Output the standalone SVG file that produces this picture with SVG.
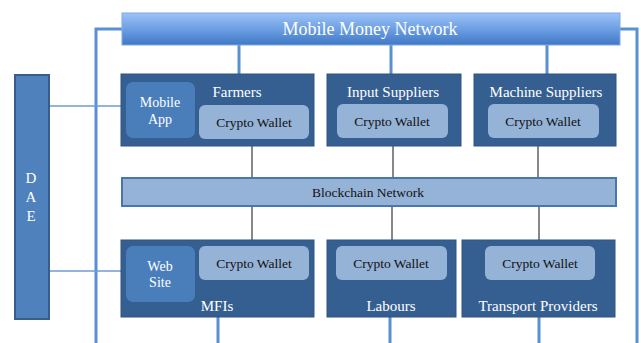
<svg xmlns="http://www.w3.org/2000/svg" width="641" height="343" viewBox="0 0 641 343">
<defs>
<linearGradient id="mmg" x1="0" y1="0" x2="0" y2="1">
<stop offset="0" stop-color="#9cc3f7"/>
<stop offset="0.5" stop-color="#6d9fe3"/>
<stop offset="1" stop-color="#3f78c6"/>
</linearGradient>
</defs>
<style>
.org{fill:#365f91;stroke:#2f5580;stroke-width:1}
.sub{fill:#4a7ebb}
.wal{fill:#95b3d7}
.bus{stroke:#5b8fd3;stroke-width:3;fill:none}
.thin{stroke:#6f9bd0;stroke-width:1.5;fill:none}
.blk{stroke:#111;stroke-width:1;fill:none}
text{font-family:"Liberation Serif","Times New Roman",serif;text-anchor:middle;dominant-baseline:central}
.w{fill:#fff;font-size:15px}
.k{fill:#111;font-size:13.5px}
</style>
<g id="connectors">
<polyline class="bus" points="122,29 96,29 96,343"/>
<polyline class="bus" points="620,29 637,29 637,343"/>
<line class="bus" x1="239" y1="45" x2="239" y2="74"/>
<line class="bus" x1="391" y1="45" x2="391" y2="74"/>
<line class="bus" x1="547" y1="45" x2="547" y2="74"/>
<line class="bus" x1="218" y1="317" x2="218" y2="343"/>
<line class="bus" x1="390" y1="317" x2="390" y2="343"/>
<line class="bus" x1="539" y1="317" x2="539" y2="343"/>
<line class="thin" x1="49" y1="106" x2="126" y2="106"/>
<line class="thin" x1="49" y1="271" x2="126" y2="271"/>
<line class="blk" x1="252" y1="138" x2="252" y2="178"/>
<line class="blk" x1="393" y1="138" x2="393" y2="178"/>
<line class="blk" x1="538" y1="138" x2="538" y2="178"/>
<line class="blk" x1="252" y1="206" x2="252" y2="246"/>
<line class="blk" x1="392" y1="206" x2="392" y2="246"/>
<line class="blk" x1="539" y1="206" x2="539" y2="246"/>
</g>
<g id="mobile-money">
<rect x="122" y="13" width="498" height="32" fill="url(#mmg)" stroke="#7fa9e0" stroke-width="1"/>
<text class="w" x="370" y="29" style="font-size:18px">Mobile Money Network</text>
</g>
<g id="dae">
<rect x="15" y="75" width="34" height="244" fill="#4f81bd" stroke="#385d8a" stroke-width="2"/>
<text class="w" x="31" y="178">D</text>
<text class="w" x="31" y="197">A</text>
<text class="w" x="31" y="216">E</text>
</g>
<g id="farmers">
<rect class="org" x="121" y="74" width="193" height="72"/>
<rect class="sub" x="126" y="82" width="69" height="56" rx="7"/>
<text class="w" x="160" y="102" style="font-size:14px">Mobile</text>
<text class="w" x="160" y="119" style="font-size:14px">App</text>
<text class="w" x="237" y="92">Farmers</text>
<rect class="wal" x="199" y="105" width="110" height="34" rx="6"/>
<text class="k" x="254" y="122">Crypto Wallet</text>
</g>
<g id="input-suppliers">
<rect class="org" x="327" y="74" width="134" height="72"/>
<text class="w" x="393" y="92">Input Suppliers</text>
<rect class="wal" x="337" y="104" width="111" height="34" rx="6"/>
<text class="k" x="392" y="121">Crypto Wallet</text>
</g>
<g id="machine-suppliers">
<rect class="org" x="474" y="74" width="142" height="72"/>
<text class="w" x="546" y="92">Machine Suppliers</text>
<rect class="wal" x="488" y="104" width="111" height="34" rx="6"/>
<text class="k" x="543" y="121">Crypto Wallet</text>
</g>
<g id="blockchain">
<rect x="122" y="178" width="494" height="28" fill="#95b3d7" stroke="#4a76b0" stroke-width="2"/>
<text class="k" x="368" y="192">Blockchain Network</text>
</g>
<g id="mfis">
<rect class="org" x="121" y="240" width="193" height="77"/>
<rect class="sub" x="126" y="246" width="69" height="56" rx="7"/>
<text class="w" x="160" y="266" style="font-size:14px">Web</text>
<text class="w" x="160" y="282" style="font-size:14px">Site</text>
<rect class="wal" x="199" y="246" width="110" height="34" rx="6"/>
<text class="k" x="254" y="263">Crypto Wallet</text>
<text class="w" x="217" y="306">MFIs</text>
</g>
<g id="labours">
<rect class="org" x="327" y="240" width="129" height="77"/>
<rect class="wal" x="336" y="246" width="111" height="34" rx="6"/>
<text class="k" x="391" y="263">Crypto Wallet</text>
<text class="w" x="391" y="306">Labours</text>
</g>
<g id="transport-providers">
<rect class="org" x="462" y="240" width="153" height="77"/>
<rect class="wal" x="485" y="246" width="110" height="34" rx="6"/>
<text class="k" x="540" y="263">Crypto Wallet</text>
<text class="w" x="538" y="306">Transport Providers</text>
</g>
</svg>
